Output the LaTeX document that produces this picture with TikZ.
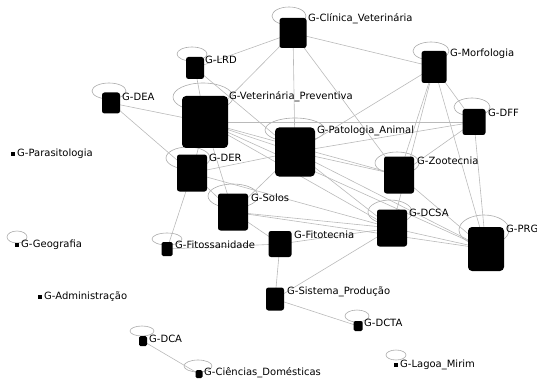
\documentclass[tikz,border=0pt]{standalone}
\usepackage{fontspec}
\setmainfont{DejaVu Sans}
\usetikzlibrary{calc}
\pgfdeclarelayer{bg}
\pgfsetlayers{bg,main}
\begin{document}
\begin{tikzpicture}[x=1pt,y=-1pt,
  sq/.style={fill=black,draw=none,rounded corners=2.5pt,inner sep=0pt},
  dotn/.style={fill=black,draw=none,inner sep=0pt,minimum size=4pt},
  lbl/.style={anchor=west,inner sep=0pt,font=\fontsize{10}{11}\selectfont},
  conn/.style={draw=black!27,line width=0.6pt},
  loopc/.style={draw=black!33,line width=0.6pt}]
\useasboundingbox (0,0) rectangle (537,382);
% nodes
\node[sq,minimum width=27pt,minimum height=30pt] (clin) at (293,33) {};
\node[sq,minimum width=18pt,minimum height=22pt] (lrd) at (195,68) {};
\node[sq,minimum width=46pt,minimum height=52pt,rounded corners=4pt] (vet) at (205,122) {};
\node[sq,minimum width=25pt,minimum height=32pt] (morf) at (434,67) {};
\node[sq,minimum width=23pt,minimum height=26pt] (dff) at (474,122) {};
\node[sq,minimum width=18pt,minimum height=21pt] (dea) at (111,103) {};
\node[dotn] (para) at (13,154) {};
\node[sq,minimum width=30pt,minimum height=37pt] (der) at (192,173) {};
\node[sq,minimum width=40pt,minimum height=49pt,rounded corners=4pt] (pat) at (295,152) {};
\node[sq,minimum width=30pt,minimum height=37pt] (solos) at (233,212) {};
\node[sq,minimum width=23pt,minimum height=26pt] (fito) at (280,244) {};
\node[sq,minimum width=11pt,minimum height=14pt,rounded corners=1.5pt] (fitos) at (167,249) {};
\node[sq,minimum width=30pt,minimum height=37pt] (zoo) at (399,175) {};
\node[sq,minimum width=30pt,minimum height=37pt] (dcsa) at (392,228) {};
\node[sq,minimum width=36pt,minimum height=44pt,rounded corners=4pt] (prg) at (486,249) {};
\node[dotn] (geo) at (17,245) {};
\node[dotn] (adm) at (40,297) {};
\node[sq,minimum width=18pt,minimum height=23pt] (sis) at (275,299) {};
\node[sq,minimum width=9pt,minimum height=10pt,rounded corners=1.5pt] (dcta) at (358,326) {};
\node[sq,minimum width=8pt,minimum height=10pt,rounded corners=1.5pt] (dca) at (143,341) {};
\node[sq,minimum width=7pt,minimum height=8pt,rounded corners=1.5pt] (cien) at (199,374) {};
\node[dotn] (lagoa) at (396,365) {};
% labels
\node[lbl] (clin-l) at (308,19) {G-Clínica\_Veterinária};
\node[lbl] (lrd-l) at (205,60) {G-LRD};
\node[lbl] (vet-l) at (229,97) {G-Veterinária\_Preventiva};
\node[lbl] (morf-l) at (450,54) {G-Morfologia};
\node[lbl] (dff-l) at (488,113) {G-DFF};
\node[lbl] (dea-l) at (122,97) {G-DEA};
\node[lbl] (para-l) at (17,154) {G-Parasitologia};
\node[lbl] (der-l) at (209,158) {G-DER};
\node[lbl] (pat-l) at (317,131) {G-Patologia\_Animal};
\node[lbl] (solos-l) at (251,198) {G-Solos};
\node[lbl] (fito-l) at (294,235) {G-Fitotecnia};
\node[lbl] (fitos-l) at (175,245) {G-Fitossanidade};
\node[lbl] (zoo-l) at (417,161) {G-Zootecnia};
\node[lbl] (dcsa-l) at (409,213) {G-DCSA};
\node[lbl] (prg-l) at (506,229) {G-PRG};
\node[lbl] (geo-l) at (21,245) {G-Geografia};
\node[lbl] (adm-l) at (44,297) {G-Administração};
\node[lbl] (sis-l) at (287,292) {G-Sistema\_Produção};
\node[lbl] (dcta-l) at (364,323) {G-DCTA};
\node[lbl] (dca-l) at (149,339) {G-DCA};
\node[lbl] (cien-l) at (204,373) {G-Ciências\_Domésticas};
\node[lbl] (lagoa-l) at (400,365) {G-Lagoa\_Mirim};
\begin{pgfonlayer}{bg}
% self loops
\draw[loopc] ($(clin)+(-4,-17)$) ellipse [x radius=17, y radius=9];
\draw[loopc] ($(lrd)+(-3,-14)$) ellipse [x radius=15, y radius=7];
\draw[loopc] ($(vet)+(-2,-25)$) ellipse [x radius=30, y radius=14];
\draw[loopc] ($(morf)+(-3,-16)$) ellipse [x radius=18, y radius=9];
\draw[loopc] ($(dff)+(-2,-15)$) ellipse [x radius=18, y radius=9];
\draw[loopc] ($(dea)+(-2,-12)$) ellipse [x radius=17, y radius=8];
\draw[loopc] ($(pat)+(0,-22)$) ellipse [x radius=30, y radius=12];
\draw[loopc] ($(der)+(-4,-15)$) ellipse [x radius=22, y radius=11];
\draw[loopc] ($(solos)+(0,-16)$) ellipse [x radius=25, y radius=12];
\draw[loopc] ($(zoo)+(-2,-12)$) ellipse [x radius=22, y radius=11];
\draw[loopc] ($(dcsa)+(-2,-16)$) ellipse [x radius=22, y radius=12];
\draw[loopc] ($(prg)+(-2,-19)$) ellipse [x radius=25, y radius=15];
\draw[loopc] ($(fitos)+(0,-10)$) ellipse [x radius=15, y radius=6];
\draw[loopc] ($(geo)+(0,-8)$) ellipse [x radius=10, y radius=6];
\draw[loopc] ($(dca)+(-1,-10)$) ellipse [x radius=12, y radius=5];
\draw[loopc] ($(cien)+(-1,-8)$) ellipse [x radius=14, y radius=6];
\draw[loopc] ($(dcta)+(-1,-10)$) ellipse [x radius=12, y radius=6];
\draw[loopc] ($(lagoa)+(0,-10)$) ellipse [x radius=10, y radius=5];
% edges
\draw[conn] (clin.center) -- (lrd.center);
\draw[conn] (clin.center) -- (vet.center);
\draw[conn] (clin.center) -- (pat.center);
\draw[conn] (clin.center) -- (zoo.center);
\draw[conn] (clin.center) -- (morf.center);
\draw[conn] (lrd.center) -- (vet.center);
\draw[conn] (lrd.center) -- (pat.center);
\draw[conn] (dea.center) -- (vet.center);
\draw[conn] (dea.center) -- (der.center);
\draw[conn] (vet.center) -- (pat.center);
\draw[conn] (vet.center) -- (zoo.center);
\draw[conn] (vet.center) -- (dcsa.center);
\draw[conn] (vet.center) -- (prg.center);
\draw[conn] (vet.center) -- (dff.center);
\draw[conn] (vet.center) -- (der.center);
\draw[conn] (vet.center) -- (solos.center);
\draw[conn] (pat.center) -- (morf.center);
\draw[conn] (pat.center) -- (dff.center);
\draw[conn] (pat.center) -- (zoo.center);
\draw[conn] (pat.center) -- (dcsa.center);
\draw[conn] (pat.center) -- (prg.center);
\draw[conn] (pat.center) -- (solos.center);
\draw[conn] (pat.center) -- (der.center);
\draw[conn] (morf.center) -- (zoo.center);
\draw[conn] (morf.center) -- (dcsa.center);
\draw[conn] (morf.center) -- (prg.center);
\draw[conn] (morf.center) -- (dff.center);
\draw[conn] (dff.center) -- (prg.center);
\draw[conn] (dff.center) -- (zoo.center);
\draw[conn] (zoo.center) -- (prg.center);
\draw[conn] (dcsa.center) -- (prg.center);
\draw[conn] (der.center) -- (dcsa.center);
\draw[conn] (solos.center) -- (dcsa.center);
\draw[conn] (solos.center) -- (prg.center);
\draw[conn] (solos.center) -- (fito.center);
\draw[conn] (der.center) -- (solos.center);
\draw[conn] (der.center) -- (fitos.center);
\draw[conn] (fitos.center) -- (fito.center);
\draw[conn] (fito.center) -- (dcsa.center);
\draw[conn] (fito.center) -- (sis.center);
\draw[conn] (sis.center) -- (dcsa.center);
\draw[conn] (sis.center) -- (dcta.center);
\draw[conn] (dca.center) -- (cien.center);
\end{pgfonlayer}
\end{tikzpicture}
\end{document}
